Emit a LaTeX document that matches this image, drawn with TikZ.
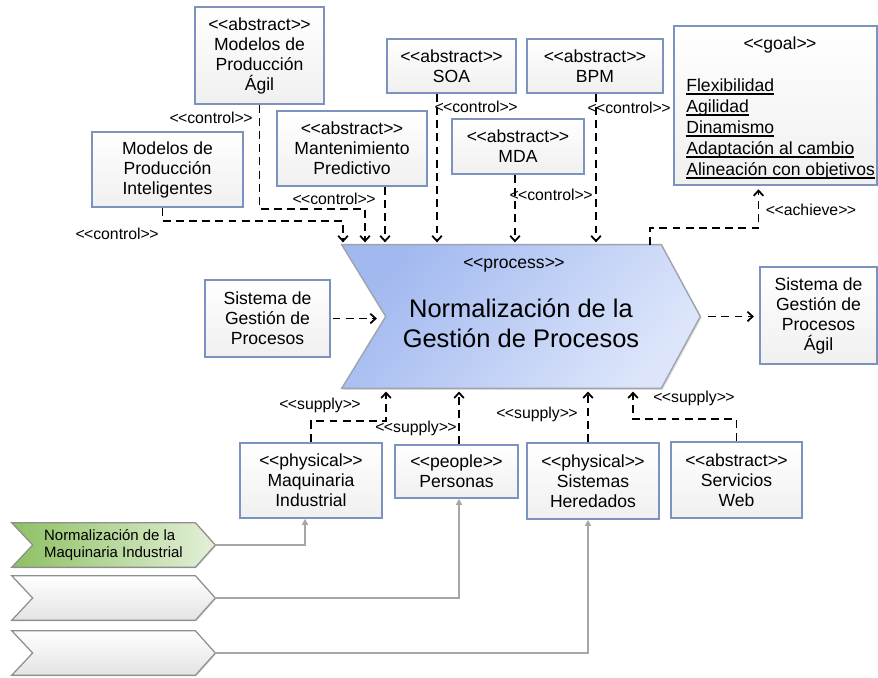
\documentclass[tikz,border=0pt]{standalone}
\usepackage{fontspec}
\setmainfont{Liberation Sans}
\usetikzlibrary{arrows.meta,shadows,backgrounds}

\definecolor{boxblue}{HTML}{7B93BE}
\definecolor{procleft}{HTML}{A2B9F0}
\definecolor{procright}{HTML}{DCE5FA}
\definecolor{procline}{HTML}{9EA3AE}
\definecolor{greenleft}{HTML}{8DC062}
\definecolor{greenright}{HTML}{E4F0D9}
\definecolor{chevgray}{HTML}{8E8E8E}
\definecolor{feedgray}{HTML}{A6A6A6}

\newcommand{\stereo}[1]{<\kern-0.4pt<#1>\kern-0.4pt>}
\newcommand{\goalline}[1]{\setbox0\hbox{#1}\rlap{\copy0}\raisebox{-1.9pt}{\rule{\wd0}{0.9pt}}}

\begin{document}
\begin{tikzpicture}[x=0.02cm, y=-0.02cm,
  umlbox/.style={draw=boxblue, line width=0.9pt, top color=white, bottom color=black!6,
    drop shadow={opacity=0.25, shadow xshift=0.7pt, shadow yshift=-0.7pt},
    align=center, inner sep=1pt, font=\fontsize{10}{11.4}\selectfont},
  lbl/.style={font=\fontsize{9}{10}\selectfont, inner sep=0pt},
  ctrl/.style={dash pattern=on 4.5pt off 3pt, line width=1pt,
    -{Straight Barb[length=3pt,width=5.5pt]}, shorten >=1.5pt},
  feed/.style={draw=feedgray, line width=0.8pt, -{Triangle[length=3.5pt,width=3.5pt]}},
  chev/.style={minimum width=4.06cm, minimum height=0.88cm, inner sep=0pt}]
  \useasboundingbox (0,0) rectangle (878,677);

  % controls
  \node[umlbox, minimum width=2.58cm, minimum height=1.94cm]
  (agil) at (259.5,55.5) {\stereo{abstract}\\Modelos de\\Producción\\Ágil};
  \node[umlbox, minimum width=3.02cm, minimum height=1.5cm]
  (intel) at (167.5,169.5) {Modelos de\\Producción\\Inteligentes};
  \node[umlbox, minimum width=3cm, minimum height=1.5cm]
  (mant) at (352,148.5) {\stereo{abstract}\\Mantenimiento\\Predictivo};
  \node[umlbox, minimum width=2.58cm, minimum height=1.08cm]
  (soa) at (451.5,66) {\stereo{abstract}\\SOA};
  \node[umlbox, minimum width=2.72cm, minimum height=1.08cm]
  (bpm) at (595,66) {\stereo{abstract}\\BPM};
  \node[umlbox, minimum width=2.64cm, minimum height=1.1cm]
  (mda) at (518,146.5) {\stereo{abstract}\\MDA};

  % goal
  \node[umlbox, minimum width=4.06cm, minimum height=3.18cm] (goal) at (775.5,105.5) {};
  \node[lbl, font=\fontsize{10}{12}\selectfont] (goaltag) at (780,45) {\stereo{goal}};
  \node[lbl, font=\fontsize{10}{11.9}\selectfont, align=left, anchor=west]
  (goallist) at (686,129) {\goalline{Flexibilidad}\\\goalline{Agilidad}\\
    \goalline{Dinamismo}\\\goalline{Adaptación al cambio}\\
    \goalline{Alineación con objetivos}};

  % input / output
  \node[umlbox, minimum width=2.5cm, minimum height=1.54cm]
  (sgp) at (267.5,318.5) {Sistema de\\Gestión de\\Procesos};
  \node[umlbox, minimum width=2.34cm, minimum height=1.94cm]
  (sgpa) at (818.5,315.5) {Sistema de\\Gestión de\\Procesos\\Ágil};

  % resources
  \node[umlbox, minimum width=2.84cm, minimum height=1.5cm]
  (maq) at (311,480.5) {\stereo{physical}\\Maquinaria\\Industrial};
  \node[umlbox, minimum width=2.46cm, minimum height=1.06cm]
  (pers) at (456.5,471.5) {\stereo{people}\\Personas};
  \node[umlbox, minimum width=2.64cm, minimum height=1.52cm]
  (hered) at (593,481) {\stereo{physical}\\Sistemas\\Heredados};
  \node[umlbox, minimum width=2.62cm, minimum height=1.52cm]
  (web) at (736.5,480) {\stereo{abstract}\\Servicios\\Web};

  % process
  \node[minimum width=7.16cm, minimum height=2.86cm, inner sep=0pt] (proc) at (521,316.5) {};
  \node[lbl, font=\fontsize{10}{12}\selectfont] (proctag) at (514,265) {\stereo{process}};
  \node[align=center, font=\fontsize{14.5}{17}\selectfont]
  (procname) at (521,323) {Normalización de la\\Gestión de Procesos};

  % sub processes
  \node[chev, align=left, font=\fontsize{8.5}{10}\selectfont]
  (mgreen) at (113.5,545) {Normalización de la\\Maquinaria Industrial};
  \node[chev] (gray1) at (113.5,598) {};
  \node[chev] (gray2) at (113.5,653) {};

  \begin{scope}[on background layer]
    \draw[procline, line width=0.8pt, top color=procleft, bottom color=procright, shading angle=50,
      drop shadow={opacity=0.25, shadow xshift=0.8pt, shadow yshift=-0.8pt}]
    (proc.north west) -- ([xshift=-0.78cm]proc.north east) -- (proc.east)
    -- ([xshift=-0.78cm]proc.south east) -- (proc.south west)
    -- ([xshift=0.88cm]proc.west) -- cycle;
    \draw[chevgray, line width=0.7pt, left color=greenleft, right color=greenright,
      drop shadow={opacity=0.25, shadow xshift=0.6pt, shadow yshift=-0.6pt}]
    (mgreen.north west) -- ([xshift=-0.4cm]mgreen.north east) -- (mgreen.east)
    -- ([xshift=-0.4cm]mgreen.south east) -- (mgreen.south west)
    -- ([xshift=0.42cm]mgreen.west) -- cycle;
    \draw[chevgray, line width=0.7pt, top color=white, bottom color=black!11,
      drop shadow={opacity=0.25, shadow xshift=0.6pt, shadow yshift=-0.6pt}]
    (gray1.north west) -- ([xshift=-0.4cm]gray1.north east) -- (gray1.east)
    -- ([xshift=-0.4cm]gray1.south east) -- (gray1.south west)
    -- ([xshift=0.42cm]gray1.west) -- cycle;
    \draw[chevgray, line width=0.7pt, top color=white, bottom color=black!11,
      drop shadow={opacity=0.25, shadow xshift=0.6pt, shadow yshift=-0.6pt}]
    (gray2.north west) -- ([xshift=-0.4cm]gray2.north east) -- (gray2.east)
    -- ([xshift=-0.4cm]gray2.south east) -- (gray2.south west)
    -- ([xshift=0.42cm]gray2.west) -- cycle;
  \end{scope}

  % ends of the connectors on the process
  \coordinate (in1) at (343,245);
  \coordinate (in2) at (365,245);
  \coordinate (in3) at (385,245);
  \coordinate (in4) at (437,245);
  \coordinate (in5) at (515,245);
  \coordinate (in6) at (596,245);
  \coordinate (out1) at (650,245);
  \coordinate (sup1) at (386,388);
  \coordinate (sup2) at (459,388);
  \coordinate (sup3) at (588,388);
  \coordinate (sup4) at (633,388);
  \coordinate (notch) at ([xshift=0.88cm]proc.west);

  \draw[ctrl] ([xshift=-0.1cm]intel.south) -- ++(0,13) -| (in1);
  \draw[ctrl] (agil.south) -- ++(0,104) -| (in2);
  \draw[ctrl] (mant.south -| in3) -- (in3);
  \draw[ctrl] (soa.south -| in4) -- (in4);
  \draw[ctrl] (mda.south -| in5) -- (in5);
  \draw[ctrl] (bpm.south -| in6) -- (in6);
  \draw[ctrl, shorten >=2pt] (out1) -- ++(0,-17) -| ([xshift=-0.34cm]goal.south);
  \draw[ctrl, shorten <=1pt, shorten >=5pt] (sgp.east) -- (sgp.east -| notch);
  \draw[ctrl, shorten <=4.5pt, shorten >=3pt] (proc.east) -- (proc.east -| sgpa.west);

  \draw[ctrl, shorten >=2pt] (maq.north) -- ++(0,-21) -| (sup1);
  \draw[ctrl, shorten >=2pt] (pers.north -| sup2) -- (sup2);
  \draw[ctrl, shorten >=2pt] (hered.north -| sup3) -- (sup3);
  \draw[ctrl, shorten >=2pt] (web.north) -- ++(0,-22) -| (sup4);

  \draw[feed] (mgreen.east) -| ([xshift=-0.12cm]maq.south);
  \draw[feed] (gray1.east) -| ([xshift=0.05cm]pers.south);
  \draw[feed] (gray2.east) -| ([xshift=-0.1cm]hered.south);

  % stereotype labels
  \node[lbl] (c1) at (117,234) {\stereo{control}};
  \node[lbl] (c2) at (211,118) {\stereo{control}};
  \node[lbl] (c3) at (334,199) {\stereo{control}};
  \node[lbl] (c4) at (476,107) {\stereo{control}};
  \node[lbl] (c5) at (551,195) {\stereo{control}};
  \node[lbl] (c6) at (629,108) {\stereo{control}};
  \node[lbl] (a1) at (811,210) {\stereo{achieve}};
  \node[lbl] (s1) at (320,405) {\stereo{supply}};
  \node[lbl] (s2) at (416,428) {\stereo{supply}};
  \node[lbl] (s3) at (537,414) {\stereo{supply}};
  \node[lbl] (s4) at (694,398) {\stereo{supply}};
\end{tikzpicture}
\end{document}
